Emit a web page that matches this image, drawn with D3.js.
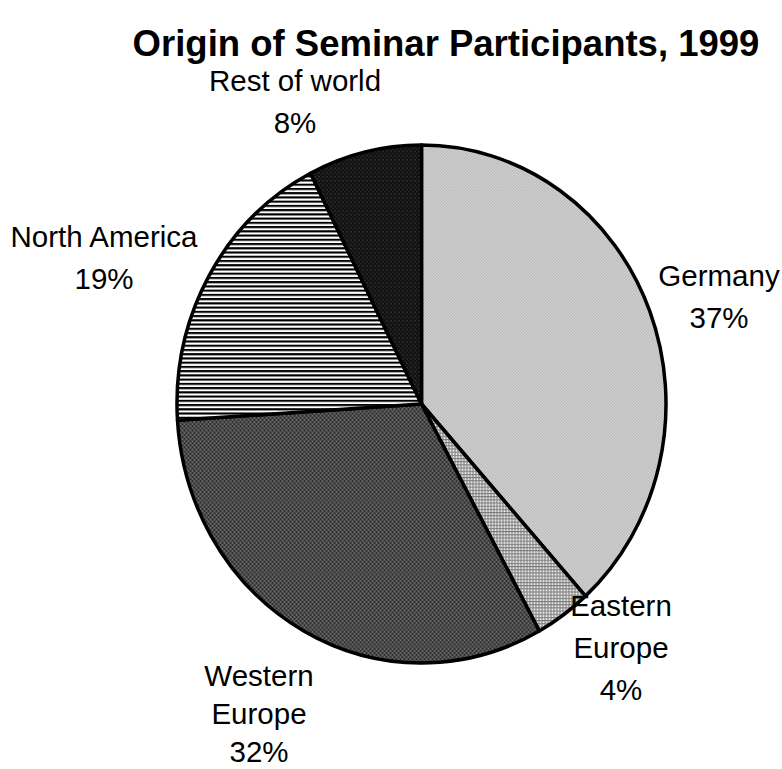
<!DOCTYPE html>
<html>
<head>
<meta charset="utf-8">
<script src="https://cdn.jsdelivr.net/npm/d3@7"></script>
<style>
body { margin: 0; background: #fff; }
svg { display: block; }
text { font-family: "Liberation Sans", Arial, sans-serif; fill: #000; }
</style>
</head>
<body>
<svg id="chart" width="782" height="769"></svg>
<script>
// Data
const categories = ["Germany", "Eastern Europe", "Western Europe", "North America", "Rest of world"];
const values = [38.3, 3.7, 32.0, 18.5, 7.5];
const labelLines = [["Germany", "37%"], ["Eastern", "Europe", "4%"], ["Western", "Europe", "32%"], ["North America", "19%"], ["Rest of world", "8%"]];
const title = "Origin of Seminar Participants, 1999";

const svg = d3.select("#chart");
const cx = 421.5, cy = 404, rx = 244.5, ry = 259;

// Patterns
const defs = svg.append("defs");
function pattern(id, w, h, bg, draw) {
  const p = defs.append("pattern").attr("id", id).attr("patternUnits", "userSpaceOnUse")
    .attr("width", w).attr("height", h);
  p.append("rect").attr("width", w).attr("height", h).attr("fill", bg);
  draw(p);
}
pattern("pGer", 3, 3, "#d6d6d6", p => {
  [[0, 2], [1, 1], [2, 0]].forEach(([x, y]) =>
    p.append("rect").attr("x", x).attr("y", y).attr("width", 1).attr("height", 1).attr("fill", "#a8a8a8"));
});
pattern("pEast", 3, 3, "#e6e6e6", p => {
  p.append("rect").attr("x", 0).attr("y", 0).attr("width", 3).attr("height", 1).attr("fill", "#7a7a7a");
  p.append("rect").attr("x", 0).attr("y", 0).attr("width", 1).attr("height", 3).attr("fill", "#7a7a7a");
});
pattern("pWest", 4, 4, "#2a2a2a", p => {
  p.append("rect").attr("x", 0).attr("y", 0).attr("width", 2).attr("height", 2).attr("fill", "#6a6a6a");
  p.append("rect").attr("x", 2).attr("y", 2).attr("width", 2).attr("height", 2).attr("fill", "#6a6a6a");
});
pattern("pNA", 4, 4, "#ffffff", p => {
  p.append("rect").attr("x", 0).attr("y", 0).attr("width", 4).attr("height", 2).attr("fill", "#000");
});
pattern("pRest", 4, 4, "#111111", p => {
  p.append("rect").attr("x", 1).attr("y", 1).attr("width", 1).attr("height", 1).attr("fill", "#5a5a5a");
  p.append("rect").attr("x", 3).attr("y", 3).attr("width", 1).attr("height", 1).attr("fill", "#3a3a3a");
});
const fills = ["url(#pGer)", "url(#pEast)", "url(#pWest)", "url(#pNA)", "url(#pRest)"];

const pie = d3.pie().sort(null).value(d => d)(values);
const arc = d3.arc().innerRadius(0).outerRadius(rx);

const g = svg.append("g").attr("transform", `translate(${cx},${cy}) scale(1,${ry / rx})`);
g.selectAll("path").data(pie).join("path")
  .attr("d", arc)
  .attr("fill", (d, i) => fills[i])
  .attr("stroke", "#000")
  .attr("stroke-width", 3.5)
  .attr("stroke-linejoin", "round")
  .attr("vector-effect", "non-scaling-stroke");

// Title
svg.append("text").attr("x", 446).attr("y", 56).attr("text-anchor", "middle")
  .attr("font-size", 36.5).attr("font-weight", "bold").text(title);

// Labels (first-line baseline positions)
const labelPos = [[719, 286], [621, 616], [259, 686], [104, 247], [295, 91]];
const lineGaps = [42, 42, 38, 42, 42];
labelLines.forEach((lines, i) => {
  const t = svg.append("text").attr("text-anchor", "middle").attr("font-size", 29.5);
  lines.forEach((s, j) => {
    t.append("tspan").attr("x", labelPos[i][0]).attr("y", labelPos[i][1] + j * lineGaps[i]).text(s);
  });
});
</script>
</body>
</html>
